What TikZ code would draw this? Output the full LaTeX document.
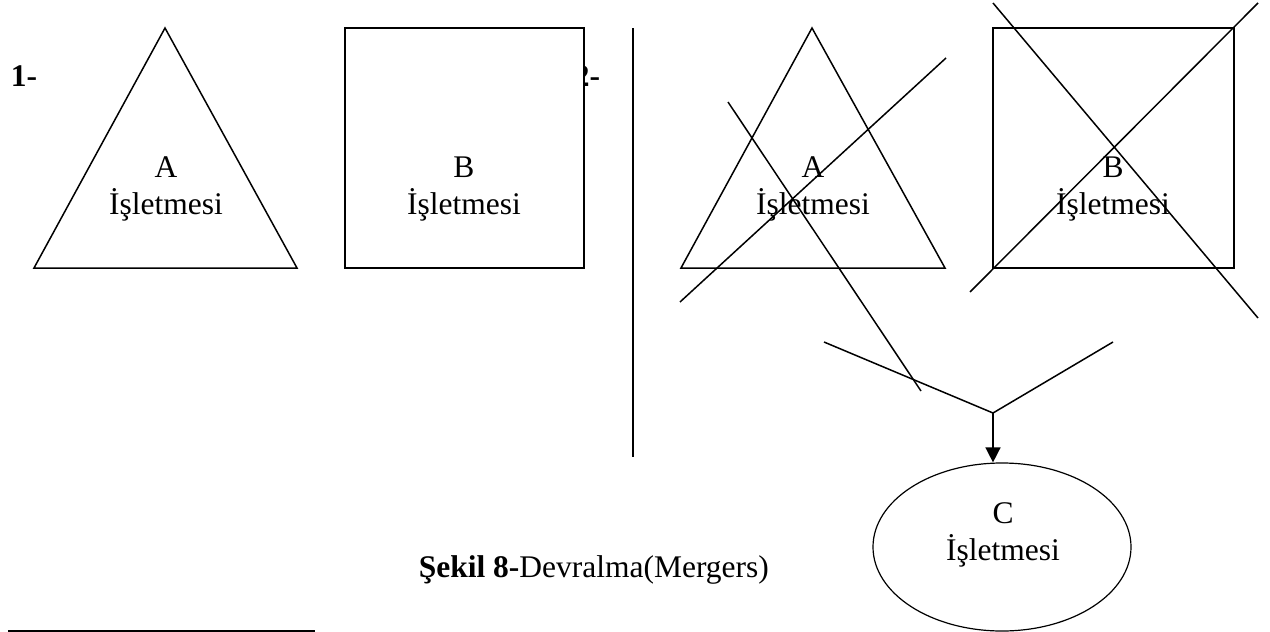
\documentclass[tikz,border=0pt]{standalone}
\usepackage{fontspec}
\setmainfont{Liberation Serif}
\usetikzlibrary{arrows.meta,shapes.geometric}
\begin{document}
\begin{tikzpicture}[x=1pt,y=-1pt,line width=1.5pt,
  lbl/.style={font=\fontsize{31.5}{37}\selectfont, align=center, inner sep=0pt},
  outline/.style={draw=black, line width=1.5pt, fill=white},
  crossline/.style={draw=black, line width=1.5pt},
  arr/.style={draw=black, line width=1.5pt, -{Triangle[width=15pt,length=15pt]}}]
\useasboundingbox (0,0) rectangle (1270,632);
% numbering
\node[lbl, anchor=base west] (n1) at (10,86) {\bfseries 1-};
\node[lbl, anchor=base west] (n2) at (573,86) {\bfseries 2-};
% left part
\draw[outline] (165,28) -- (297,268) -- (34,268) -- cycle;
\draw[outline] (345,28) rectangle (584,268);
\node[lbl] (tA1) at (166,189) {A\\İşletmesi};
\node[lbl] (tB1) at (464,189) {B\\İşletmesi};
% separator
\coordinate (s1) at (633,28);
\coordinate (s2) at (633,457);
\draw[crossline] (s1) -- (s2);
% right part
\draw[outline] (812,28) -- (945,268) -- (681,268) -- cycle;
\draw[outline] (993,28) rectangle (1234,268);
\node[lbl] (tA2) at (813,189) {A\\İşletmesi};
\node[lbl] (tB2) at (1113,189) {B\\İşletmesi};
% crossing lines
\coordinate (a1) at (680,302); \coordinate (a2) at (946,58);
\coordinate (a3) at (728,102); \coordinate (a4) at (921,391);
\coordinate (b1) at (970,292); \coordinate (b2) at (1258,3);
\coordinate (b3) at (993,3);   \coordinate (b4) at (1258,318);
\draw[crossline] (a1) -- (a2);
\draw[crossline] (a3) -- (a4);
\draw[crossline] (b1) -- (b2);
\draw[crossline] (b3) -- (b4);
% merge
\coordinate (vl) at (824,342);
\coordinate (vr) at (1113,342);
\coordinate (v) at (993,413);
\draw[crossline] (vl) -- (v) -- (vr);
\node[draw=black, line width=1.2pt, ellipse, minimum width=258pt, minimum height=168pt, inner sep=0pt] (C) at (1002,547) {};
\node[lbl] (tC) at (1003,535) {C\\İşletmesi};
\draw[arr] (v) -- (v |- C.north);
% caption
\node[lbl, anchor=base west] (cap) at (418,577) {\textbf{Şekil 8-}Devralma(Mergers)};
% footnote rule
\coordinate (f1) at (8,631);
\coordinate (f2) at (315,631);
\draw[line width=1.5pt] (f1) -- (f2);
\end{tikzpicture}
\end{document}
